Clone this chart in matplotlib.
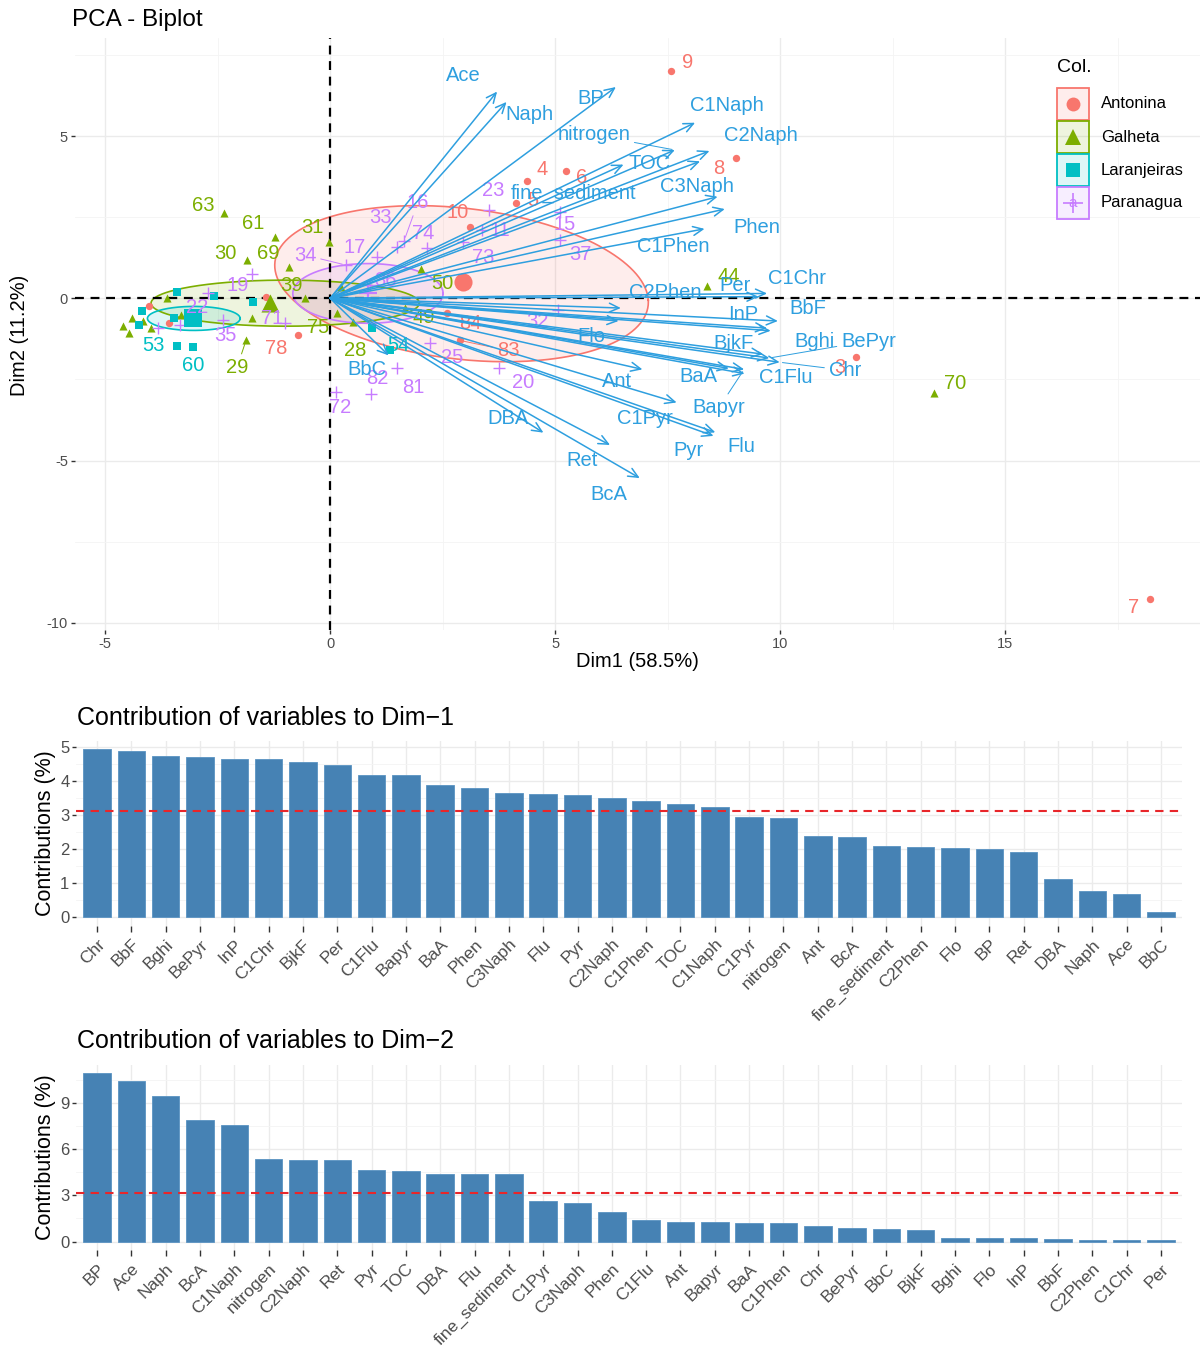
import numpy as np
import matplotlib
matplotlib.use("Agg")
import matplotlib.pyplot as plt
from matplotlib.patches import Rectangle
from matplotlib.lines import Line2D

plt.rcParams['font.family'] = ['Liberation Sans', 'DejaVu Sans']

W, H = 1203, 1349

# ---------------- data: contributions ----------------
dim1_vars = ['Chr', 'BbF', 'Bghi', 'BePyr', 'InP', 'C1Chr', 'BjkF', 'Per', 'C1Flu', 'Bapyr', 'BaA',
             'Phen', 'C3Naph', 'Flu', 'Pyr', 'C2Naph', 'C1Phen', 'TOC', 'C1Naph', 'C1Pyr', 'nitrogen',
             'Ant', 'BcA', 'fine_sediment', 'C2Phen', 'Flo', 'BP', 'Ret', 'DBA', 'Naph', 'Ace', 'BbC']
dim1_contrib = [4.93, 4.89, 4.73, 4.70, 4.66, 4.66, 4.57, 4.48, 4.19, 4.18, 3.88,
                3.80, 3.66, 3.62, 3.58, 3.51, 3.42, 3.34, 3.25, 2.93, 2.90,
                2.38, 2.34, 2.10, 2.06, 2.03, 1.99, 1.91, 1.11, 0.76, 0.68, 0.16]

dim2_vars = ['BP', 'Ace', 'Naph', 'BcA', 'C1Naph', 'nitrogen', 'C2Naph', 'Ret', 'Pyr', 'TOC', 'DBA',
             'Flu', 'fine_sediment', 'C1Pyr', 'C3Naph', 'Phen', 'C1Flu', 'Ant', 'Bapyr', 'BaA', 'C1Phen',
             'Chr', 'BePyr', 'BbC', 'BjkF', 'Bghi', 'Flo', 'InP', 'BbF', 'C2Phen', 'C1Chr', 'Per']
dim2_contrib = [10.92, 10.45, 9.43, 7.91, 7.54, 5.38, 5.31, 5.27, 4.64, 4.58, 4.42,
                4.40, 4.38, 2.65, 2.52, 1.95, 1.39, 1.24, 1.24, 1.20, 1.18,
                1.00, 0.87, 0.80, 0.76, 0.26, 0.22, 0.22, 0.17, 0.13, 0.11, 0.09]

# ---------------- data: variable arrows (biplot coords) ----------------
var_names = ['Chr', 'BbF', 'Bghi', 'BePyr', 'InP', 'C1Chr', 'BjkF', 'Per', 'C1Flu', 'Bapyr', 'BaA',
             'Phen', 'C3Naph', 'Flu', 'Pyr', 'C2Naph', 'C1Phen', 'TOC', 'C1Naph', 'C1Pyr', 'nitrogen',
             'Ant', 'BcA', 'fine_sediment', 'C2Phen', 'Flo', 'BP', 'Ret', 'DBA', 'Naph', 'Ace', 'BbC']
var_dim1 = [9.99, 9.95, 9.79, 9.76, 9.71, 9.71, 9.62, 9.52, 9.21, 9.20, 8.86,
            8.77, 8.61, 8.56, 8.52, 8.43, 8.32, 8.22, 8.11, 7.70, 7.66,
            6.94, 6.88, 6.52, 6.46, 6.41, 6.35, 6.22, 4.74, 3.92, 3.71, 1.30]
var_dim2 = [-1.97, -0.70, -1.00, -1.84, -0.92, 0.15, -1.72, 0.05, -2.32, -2.19, -2.16,
            2.75, 3.13, -4.13, -4.24, 4.54, 2.14, 4.22, 5.41, -3.21, 4.57,
            -2.19, -5.54, 4.12, -0.30, -0.70, 6.51, -4.52, -4.14, 6.05, 6.37, -1.76]

# label placement (pixel offsets from arrow tip, image-down positive) and leader flags
var_lab_off = [(65, 8), (30, -13), (44, 11), (99, -17), (-24, -14), (30, -15), (-30, -11), (-23, -11),
               (41, 4), (-25, 38), (-30, 8), (32, 18), (-21, -10), (26, 14), (-25, 15), (51, -15),
               (-31, 18), (-50, 2), (32, -17), (-32, 16), (-81, -15), (-25, 12), (-31, 16), (-50, 29),
               (44, -16), (-27, 15), (-25, 11), (-28, 16), (-35, -14), (23, 13), (-34, -16), (-22, 14)]
var_leader = {'Chr', 'BePyr', 'Bapyr', 'nitrogen'}

# ---------------- data: individuals ----------------
groups = ['Antonina', 'Galheta', 'Laranjeiras', 'Paranagua']
group_colors = ['#F8766D', '#7CAE00', '#00BFC4', '#C77CFF']
group_markers = ['o', '^', 's', '+']

ind_label = ['9', '7', '8', '4', '6', '5', '10', '3', '84', '83', '78', '', '', '',
             '63', '61', '31', '30', '69', '39', '29', '75', '28', '50', '49', '44', '70',
             '', '', '', '', '', '', '', '', '',
             '53', '60', '54', '', '', '', '', '', '', '',
             '19', '22', '35', '71', '34', '17', '33', '16', '74', '23', '11', '73', '15', '37',
             '32', '25', '20', '82', '81', '72', '36', '', '']
ind_group = [0] * 14 + [1] * 22 + [2] * 10 + [3] * 23
ind_dim1 = [7.58, 18.22, 9.02, 4.38, 5.24, 4.13, 3.11, 11.69, 2.60, 2.89, -0.71, -4.02, -3.58, -1.42,
            -2.36, -1.22, -0.02, -1.84, -0.91, -0.56, -1.87, 0.16, 0.51, 2.02, 1.67, 8.38, 13.42,
            -4.60, -4.47, -4.40, -3.98, -3.62, -3.31, -1.73, 0.25, -4.15,
            -3.40, -3.04, 1.33, -3.40, -2.58, -1.71, -4.18, -4.24, -3.47, 0.93,
            -1.73, -2.71, -2.38, -1.00, 0.36, 1.04, 1.49, 1.64, 2.16, 3.53, 3.38, 2.96, 5.11, 5.11,
            5.07, 2.22, 3.76, 0.91, 1.49, 0.13, 0.89, -3.82, -3.33]
ind_dim2 = [7.01, -9.26, 4.32, 3.61, 3.92, 2.93, 2.19, -1.82, -0.46, -1.30, -1.14, -0.25, -0.77, 0.03,
            2.62, 1.88, 1.73, 1.17, 0.96, 0.00, -1.30, -0.46, -0.74, 0.90, -0.31, 0.37, -2.93,
            -0.86, -1.08, -0.62, -0.90, 0.00, -0.52, -0.62, 0.35, -0.70,
            -1.48, -1.51, -1.60, 0.19, 0.06, -0.12, -0.40, -0.83, -0.62, -0.93,
            0.74, 0.15, -0.68, -0.77, 1.02, 1.27, 1.57, 1.76, 1.54, 2.72, 2.10, 1.73, 2.65, 1.79,
            -0.37, -1.39, -2.16, -2.96, -2.16, -2.90, 0.40, -0.90, -0.83]
ind_lab_off = [(16, -8), (-16, 9), (-17, 10), (15, -12), (16, 6), (17, -3), (-12, -15), (-16, 10),
               (23, 10), (48, 10), (-22, 13), (0, 0), (0, 0), (0, 0),
               (-21, -8), (-22, -14), (-17, -15), (-22, -7), (-21, -14), (-13, -13), (-9, 27), (-19, 14),
               (2, 28), (21, 14), (18, 9), (21, -10), (21, -10),
               (0, 0), (0, 0), (0, 0), (0, 0), (0, 0), (0, 0), (0, 0), (0, 0), (0, 0),
               (-24, -1), (0, 18), (8, -5), (0, 0), (0, 0), (0, 0), (0, 0), (0, 0), (0, 0), (0, 0),
               (-15, 11), (-11, 14), (2, 15), (-13, -5), (-41, -10), (-22, -10), (-17, -30), (14, -39),
               (-4, -15), (4, -20), (18, 0), (20, 15), (5, 12), (20, 14),
               (-21, 11), (22, 14), (24, 14), (6, -16), (16, 19), (4, 15), (15, -5), (0, 0), (0, 0)]
ind_leader = {'83', '29', '34', '16'}

# group means and concentration ellipses (center, semi-axis vectors) in biplot units
group_mean_dim1 = [2.96, -1.33, -3.04, 0.85]
group_mean_dim2 = [0.49, -0.15, -0.62, 0.15]
ell_center = [(2.92, 0.45), (-1.00, -0.15), (-3.03, -0.62), (0.84, 0.15)]
ell_axis_a = [(4.15, -0.51), (2.98, 0.0), (1.03, 0.0), (1.67, 0.0)]
ell_axis_b = [(-0.10, 2.35), (0.0, 0.71), (0.0, 0.37), (0.0, 0.92)]

VAR_COL = '#2E9FDF'
BAR_COL = '#4682B4'
GRID_MAJ = '#EBEBEB'
GRID_MIN = '#F4F4F4'
TICK_TXT = '#4D4D4D'
LAB_FS = 14.5

fig = plt.figure(figsize=(W / 100, H / 100), dpi=100)


def fpos(px, py):
    return px / W, 1 - py / H


def style_axes(ax):
    for s in ax.spines.values():
        s.set_visible(False)
    ax.tick_params(axis='both', which='major', length=3, width=1, color='#333333',
                   labelcolor=TICK_TXT, pad=2)
    ax.tick_params(axis='both', which='minor', length=0)
    ax.set_axisbelow(True)


# ================= BIPLOT =================
ax = fig.add_axes([75 / W, 1 - 630 / H, (1200 - 75) / W, (630 - 38) / H])
style_axes(ax)
ax.set_xlim(-5.67, 19.33)
ax.set_ylim(-10.22, 8.02)
ax.set_xticks([-5, 0, 5, 10, 15])
ax.set_xticklabels(['-5', '0', '5', '10', '15'], fontsize=10.5)
ax.set_yticks([-10, -5, 0, 5])
ax.set_yticklabels(['-10', '-5', '0', '5'], fontsize=10.5)
ax.set_xticks([-2.5, 2.5, 7.5, 12.5, 17.5], minor=True)
ax.set_yticks([-7.5, -2.5, 2.5, 7.5], minor=True)
ax.grid(True, which='major', color=GRID_MAJ, lw=1.0)
ax.grid(True, which='minor', color=GRID_MIN, lw=0.6)

t = np.linspace(0, 2 * np.pi, 300)
for g in range(4):
    cx, cy = ell_center[g]
    ax_, ay_ = ell_axis_a[g]
    bx_, by_ = ell_axis_b[g]
    ex = cx + ax_ * np.cos(t) + bx_ * np.sin(t)
    ey = cy + ay_ * np.cos(t) + by_ * np.sin(t)
    ax.fill(ex, ey, color=group_colors[g], alpha=0.13, lw=0, zorder=1)
    ax.plot(ex, ey, color=group_colors[g], lw=1.2, zorder=1.5)

ax.axhline(0, color='black', ls=(0, (4, 3)), lw=1.6, zorder=2)
ax.axvline(0, color='black', ls=(0, (4, 3)), lw=1.6, zorder=2)

ind_x = np.array(ind_dim1)
ind_y = np.array(ind_dim2)
ind_g = np.array(ind_group)
for g in range(4):
    m = ind_g == g
    if group_markers[g] == '+':
        ax.scatter(ind_x[m], ind_y[m], marker='+', s=70, color=group_colors[g], linewidths=1.0, zorder=3)
        ax.scatter([group_mean_dim1[g]], [group_mean_dim2[g]], marker='+', s=170,
                   color=group_colors[g], linewidths=1.6, zorder=3.2)
    else:
        ms = 34 if group_markers[g] == '^' else 28
        ax.scatter(ind_x[m], ind_y[m], marker=group_markers[g], s=ms, color=group_colors[g],
                   linewidths=0, zorder=3)
        ax.scatter([group_mean_dim1[g]], [group_mean_dim2[g]], marker=group_markers[g], s=170,
                   color=group_colors[g], linewidths=0, zorder=3.2)

for i, lab in enumerate(ind_label):
    if not lab:
        continue
    dx, dy = ind_lab_off[i]
    col = group_colors[ind_group[i]]
    props = None
    if lab in ind_leader:
        props = dict(arrowstyle='-', color=col, lw=0.7, shrinkA=1, shrinkB=3)
    ax.annotate(lab, xy=(ind_dim1[i], ind_dim2[i]), xytext=(dx, -dy), textcoords='offset pixels',
                ha='center', va='center', fontsize=LAB_FS, color=col, zorder=4, arrowprops=props)

for i, name in enumerate(var_names):
    ax.annotate('', xy=(var_dim1[i], var_dim2[i]), xytext=(0, 0),
                arrowprops=dict(arrowstyle='->,head_length=0.7,head_width=0.32', color=VAR_COL,
                                lw=1.1, shrinkA=0, shrinkB=0, mutation_scale=10), zorder=5)
for i, name in enumerate(var_names):
    dx, dy = var_lab_off[i]
    props = None
    if name in var_leader:
        props = dict(arrowstyle='-', color=VAR_COL, lw=0.7, shrinkA=1, shrinkB=2)
    ax.annotate(name, xy=(var_dim1[i], var_dim2[i]), xytext=(dx, -dy), textcoords='offset pixels',
                ha='center', va='center', fontsize=LAB_FS, color=VAR_COL, zorder=6, arrowprops=props)

fig.text(*fpos(72, 20), 'PCA - Biplot', fontsize=17.5, ha='left', va='center', color='black')
fig.text(*fpos(637, 662), 'Dim1 (58.5%)', fontsize=14.5, ha='center', va='center', color='black')
fig.text(*fpos(20, 335), 'Dim2 (11.2%)', fontsize=14.5, ha='center', va='center', rotation=90,
         color='black')

# legend (drawn inside panel, top-right)
fig.text(*fpos(1057, 68), 'Col.', fontsize=14, ha='left', va='center', color='black')
key_tops = [88, 121, 154, 187]
for g in range(4):
    x0, y0 = fpos(1057, key_tops[g] + 32)
    fig.add_artist(Rectangle((x0, y0), 32 / W, 32 / H, transform=fig.transFigure,
                             facecolor=group_colors[g], alpha=0.13, edgecolor='none'))
    fig.add_artist(Rectangle((x0, y0), 32 / W, 32 / H, transform=fig.transFigure,
                             facecolor='none', edgecolor=group_colors[g], lw=1.3))
    cx, cy = fpos(1073, key_tops[g] + 16)
    if group_markers[g] == '+':
        fig.add_artist(Line2D([cx], [cy], marker='+', markersize=14, mew=1.2, color=group_colors[g],
                              transform=fig.transFigure))
        fig.text(cx, cy, 'a', fontsize=11, ha='center', va='center', color=group_colors[g])
    else:
        ms = 12 if group_markers[g] == '^' else 10
        fig.add_artist(Line2D([cx], [cy], marker=group_markers[g], markersize=ms, mew=0,
                              color=group_colors[g], transform=fig.transFigure))
    fig.text(*fpos(1101, key_tops[g] + 16), groups[g], fontsize=12, ha='left', va='center',
             color='black')


# ================= BAR CHARTS =================
def bar_panel(rect, names, vals, ylim, yticks, yminor, title, title_y):
    a = fig.add_axes(rect)
    style_axes(a)
    xs = np.arange(len(names))
    a.bar(xs, vals, width=0.8, color=BAR_COL, edgecolor='#5A93C2', lw=0.6, zorder=2)
    a.axhline(100.0 / len(names), color='#E8262A', ls=(0, (4, 3)), lw=1.5, zorder=3)
    a.set_xlim(-0.6, len(names) - 0.4)
    a.set_ylim(*ylim)
    a.set_xticks(xs)
    a.set_xticklabels(names, rotation=45, ha='right', va='top', rotation_mode='anchor',
                      fontsize=12.5)
    a.set_yticks(yticks)
    a.set_yticklabels([str(v) for v in yticks], fontsize=12)
    a.set_yticks(yminor, minor=True)
    a.grid(True, which='major', color=GRID_MAJ, lw=1.0)
    a.grid(True, which='minor', axis='y', color=GRID_MIN, lw=0.6)
    a.tick_params(axis='x', which='major', length=4, pad=4)
    a.set_ylabel('Contributions (%)', fontsize=15.5, color='black', labelpad=3)
    fig.text(*fpos(77, title_y), title, fontsize=18, ha='left', va='center', color='black')
    return a


ax1 = bar_panel([76.4 / W, 1 - 925.5 / H, 1105.2 / W, 184.5 / H], dim1_vars, dim1_contrib,
                (-0.25, 5.18), [0, 1, 2, 3, 4, 5], [0.5, 1.5, 2.5, 3.5, 4.5],
                'Contribution of variables to Dim\u22121', 718)
ax2 = bar_panel([76.4 / W, 1 - 1250 / H, 1105.2 / W, 185 / H], dim2_vars, dim2_contrib,
                (-0.55, 11.47), [0, 3, 6, 9], [1.5, 4.5, 7.5, 10.5],
                'Contribution of variables to Dim\u22122', 1041)

fig.savefig('out.png', dpi=100)
